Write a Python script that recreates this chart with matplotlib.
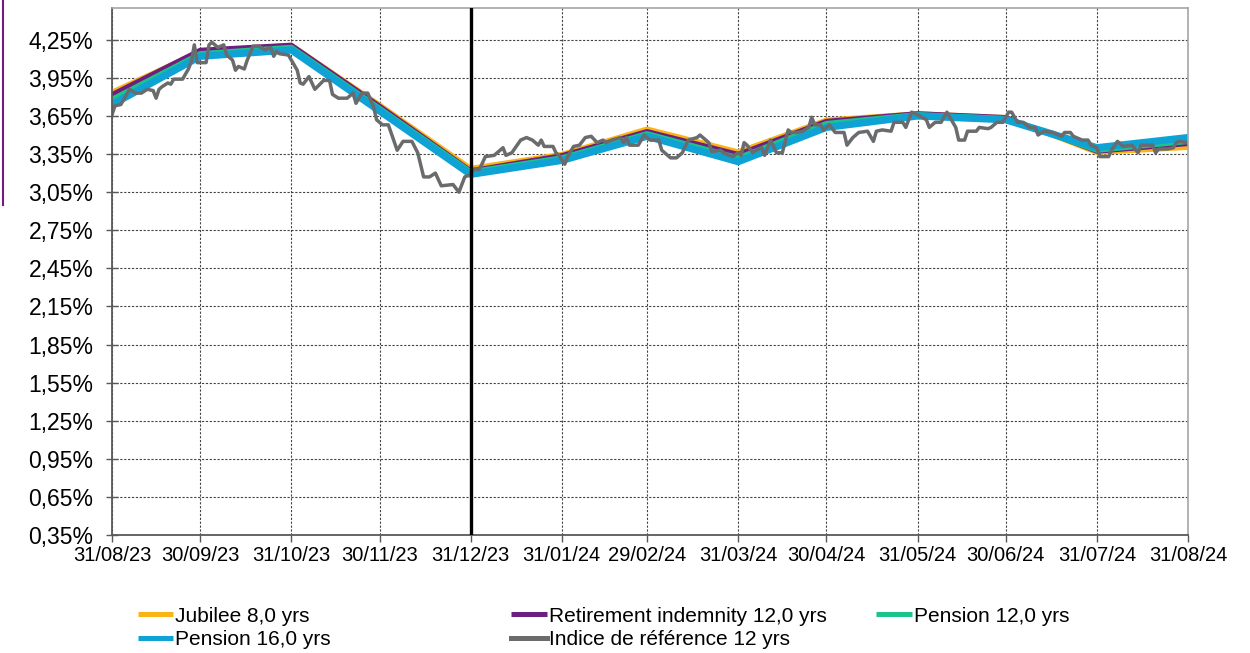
import numpy as np
import pandas as pd
import matplotlib
matplotlib.use("Agg")
import matplotlib.pyplot as plt
import matplotlib.dates as mdates
from matplotlib.lines import Line2D
from matplotlib.ticker import FuncFormatter

plt.rcParams['font.family'] = ['Liberation Sans', 'DejaVu Sans']

# month-end valuation dates
month_ends = ['2023-08-31', '2023-09-30', '2023-10-31', '2023-11-30', '2023-12-31',
              '2024-01-31', '2024-02-29', '2024-03-31', '2024-04-30', '2024-05-31',
              '2024-06-30', '2024-07-31', '2024-08-31']

jubilee_8 = [3.84, 4.16, 4.21, 3.74, 3.24, 3.35, 3.55, 3.37, 3.62, 3.67, 3.64, 3.36, 3.40]
retirement_12 = [3.82, 4.17, 4.21, 3.73, 3.22, 3.34, 3.53, 3.35, 3.61, 3.67, 3.64, 3.37, 3.43]
pension_12 = [3.78, 4.14, 4.19, 3.71, 3.21, 3.32, 3.51, 3.32, 3.59, 3.66, 3.63, 3.38, 3.45]
pension_16 = [3.74, 4.12, 4.17, 3.69, 3.19, 3.30, 3.49, 3.29, 3.56, 3.65, 3.62, 3.40, 3.48]

# reference index (days after 31/08/23, value in %)
ref_days = [0, 1, 3, 4, 6, 8, 10, 12, 14, 15, 16, 17, 19, 20, 21, 24, 26, 27, 28, 29,
            32, 33, 34, 36, 38, 39, 41, 42, 43, 45, 46, 48, 50, 52, 54, 55, 56, 57, 60, 61,
            63, 64, 65, 67, 69, 72, 74, 75, 77, 80, 82, 83, 85, 87, 89, 90, 92, 94, 97, 99,
            102, 104, 106, 108, 110, 112, 116, 118, 120, 122, 123, 125, 127, 130, 133, 134, 136, 139, 141, 143,
            145, 146, 147, 150, 151, 152, 154, 155, 157, 159, 161, 163, 165, 167, 168, 170, 173, 174, 175, 176,
            179, 181, 183, 186, 187, 190, 192, 194, 196, 199, 200, 202, 203, 204, 207, 208, 211, 213, 214, 215,
            216, 218, 219, 221, 222, 224, 226, 228, 230, 231, 233, 235, 237, 238, 239, 241, 242, 244, 246, 249,
            250, 252, 254, 257, 259, 260, 262, 265, 266, 269, 270, 272, 274, 277, 278, 280, 282, 284, 286, 287,
            288, 290, 291, 294, 295, 298, 299, 301, 303, 305, 306, 308, 310, 312, 314, 315, 317, 320, 323, 324,
            326, 327, 330, 332, 333, 335, 336, 339, 340, 342, 344, 347, 349, 350, 354, 355, 356, 359, 361, 362,
            363, 366]
ref_vals = [3.66, 3.73, 3.74, 3.78, 3.86, 3.83, 3.83, 3.86, 3.85, 3.79, 3.86, 3.88, 3.91, 3.90, 3.94, 3.94, 4.02, 4.08, 4.21, 4.07,
            4.07, 4.21, 4.23, 4.19, 4.21, 4.13, 4.09, 4.01, 4.04, 4.02, 4.09, 4.20, 4.20, 4.17, 4.19, 4.12, 4.16, 4.14, 4.13, 4.09,
            4.01, 3.91, 3.90, 3.96, 3.86, 3.93, 3.93, 3.82, 3.79, 3.79, 3.83, 3.75, 3.83, 3.83, 3.72, 3.62, 3.58, 3.58, 3.38, 3.45,
            3.45, 3.36, 3.17, 3.17, 3.20, 3.10, 3.11, 3.05, 3.17, 3.19, 3.23, 3.23, 3.33, 3.34, 3.40, 3.34, 3.36, 3.46, 3.48, 3.46,
            3.42, 3.46, 3.41, 3.41, 3.36, 3.34, 3.27, 3.33, 3.41, 3.42, 3.48, 3.49, 3.44, 3.46, 3.44, 3.46, 3.48, 3.44, 3.48, 3.42,
            3.42, 3.50, 3.46, 3.46, 3.38, 3.32, 3.32, 3.36, 3.46, 3.48, 3.50, 3.46, 3.44, 3.37, 3.38, 3.36, 3.33, 3.36, 3.34, 3.44,
            3.42, 3.36, 3.38, 3.40, 3.34, 3.46, 3.36, 3.36, 3.54, 3.52, 3.52, 3.53, 3.56, 3.64, 3.58, 3.58, 3.54, 3.58, 3.52, 3.52,
            3.42, 3.48, 3.52, 3.53, 3.45, 3.53, 3.54, 3.53, 3.60, 3.60, 3.56, 3.68, 3.66, 3.62, 3.56, 3.60, 3.60, 3.68, 3.60, 3.56,
            3.46, 3.46, 3.53, 3.53, 3.56, 3.55, 3.56, 3.60, 3.60, 3.68, 3.68, 3.60, 3.60, 3.56, 3.56, 3.50, 3.53, 3.52, 3.49, 3.52,
            3.52, 3.49, 3.46, 3.46, 3.42, 3.40, 3.33, 3.33, 3.38, 3.45, 3.41, 3.42, 3.36, 3.42, 3.42, 3.36, 3.39, 3.39, 3.40, 3.44,
            3.45, 3.44]

labels = ['Jubilee 8,0 yrs', 'Retirement indemnity 12,0 yrs', 'Pension 12,0 yrs',
          'Pension 16,0 yrs', 'Indice de référence 12 yrs']
colors = ['#FBB416', '#6E1E7E', '#1CC48C', '#0EA3D4', '#6A6B6D']
widths = [3.2, 3.2, 3.8, 5.2, 2.5]

x_me = pd.to_datetime(month_ends)
x_ref = pd.Timestamp('2023-08-31') + pd.to_timedelta(ref_days, unit='D')

fig = plt.figure(figsize=(12.5, 6.53), dpi=100)
ax = fig.add_axes([0.0896, 0.1807, 0.8608, 0.807])

series = [jubilee_8, retirement_12, pension_12, pension_16]
handles = []
for s, c, w, lab in zip(series, colors, widths, labels):
    ln, = ax.plot(x_me, s, color=c, lw=w, solid_capstyle='butt', label=lab)
    handles.append(ln)
ln, = ax.plot(x_ref, ref_vals, color=colors[4], lw=widths[4], label=labels[4])
handles.append(ln)

# closing date marker
ax.axvline(pd.Timestamp('2023-12-31'), color='black', lw=2.4, zorder=5)

ax.set_xlim(x_me[0], x_me[-1])
ax.set_ylim(0.35, 4.5)
ax.set_xticks(x_me)
ax.xaxis.set_major_formatter(mdates.DateFormatter('%d/%m/%y'))
ax.set_yticks(np.arange(0.35, 4.26, 0.30))
ax.yaxis.set_major_formatter(FuncFormatter(lambda v, p: f"{v:.2f}".replace('.', ',') + '%'))

ax.grid(True, linestyle=(0, (2, 1.5)), color='#444444', lw=0.8)
ax.set_axisbelow(True)
for side in ['top', 'right']:
    ax.spines[side].set_color('#A6A6A6')
    ax.spines[side].set_linewidth(1.2)
for side in ['left', 'bottom']:
    ax.spines[side].set_color('#595959')
    ax.spines[side].set_linewidth(1.3)

ax.tick_params(axis='y', direction='inout', length=9, width=1, color='#595959',
               labelsize=16.5, pad=9)
ax.tick_params(axis='x', direction='out', length=5, width=1, color='#595959',
               labelsize=14.5, pad=3)

# legend laid out as three fixed-width columns
cols = [([handles[0], handles[3]], [labels[0], labels[3]], 0.110),
        ([handles[1], handles[4]], [labels[1], labels[4]], 0.409),
        ([handles[2]], [labels[2]], 0.701)]
for hs, ls, xpos in cols:
    leg = fig.legend(hs, ls, loc='upper left', bbox_to_anchor=(xpos, 0.071),
                     frameon=False, fontsize=15, handlelength=1.7, handletextpad=0.1,
                     labelspacing=0.22, borderpad=0, borderaxespad=0)
    for lh in leg.legend_handles:
        lh.set_linewidth(3.6)

# slide edge decoration on the left
fig.add_artist(Line2D([0.0025, 0.0025], [1.0, 0.686], color='#6E1E7E', lw=1.5))

fig.savefig('out.png', dpi=100)
